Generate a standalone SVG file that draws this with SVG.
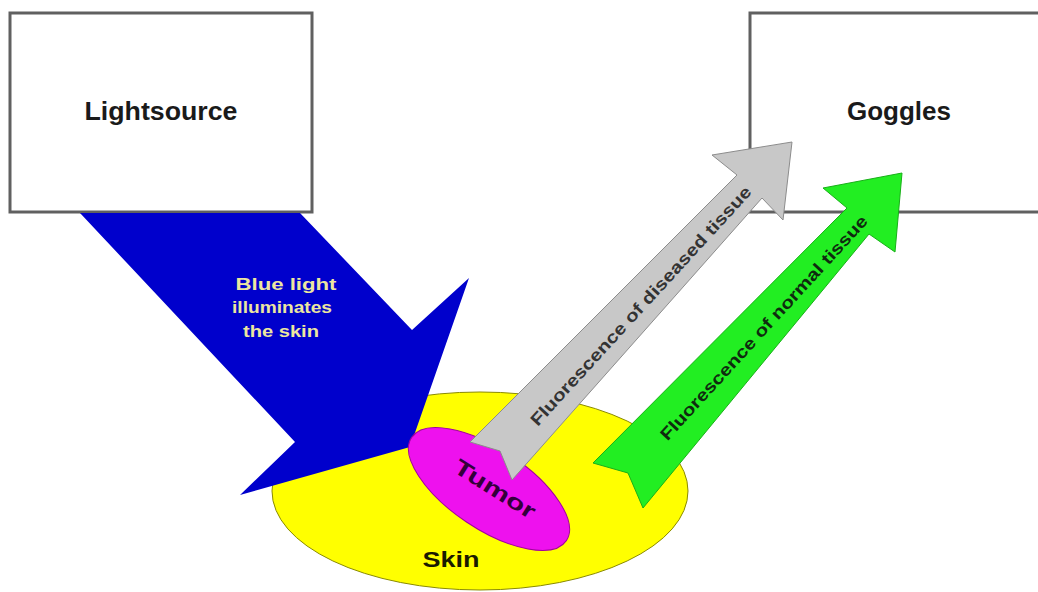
<svg xmlns="http://www.w3.org/2000/svg" width="1038" height="592" viewBox="0 0 1038 592">
<style>
.box{fill:#ffffff;stroke:#606060;stroke-width:3}
.lbl{font-family:"Liberation Sans",Arial,sans-serif;font-weight:bold}
.big{font-size:25px;fill:#1a1a1a}
</style>
<rect width="1038" height="592" fill="#ffffff"/>
<g id="skin">
<ellipse cx="480" cy="491" rx="208" ry="99" fill="#ffff00" stroke="#8a8a00" stroke-width="1"/>
<text class="lbl" x="451" y="567" font-size="22" fill="#1a1a00" text-anchor="middle" textLength="57" lengthAdjust="spacingAndGlyphs">Skin</text>
</g>
<g id="lightsource">
<rect class="box" x="10" y="13" width="302" height="199"/>
<text class="lbl big" x="161" y="120" text-anchor="middle" textLength="153" lengthAdjust="spacingAndGlyphs">Lightsource</text>
</g>
<g id="goggles">
<rect class="box" x="750" y="13" width="300" height="199"/>
<text class="lbl big" x="899" y="120" text-anchor="middle" textLength="104" lengthAdjust="spacingAndGlyphs">Goggles</text>
</g>
<g id="connectors">
<g id="blue-light">
<polygon points="80,213 300,213 412,330 469,278 410,447 240,495 295,442" fill="#0000cc"/>
<text class="lbl" font-size="16" fill="#ece6a0" text-anchor="middle"><tspan x="286" y="290" textLength="101" lengthAdjust="spacingAndGlyphs">Blue light</tspan><tspan x="282" y="313" textLength="100" lengthAdjust="spacingAndGlyphs">illuminates</tspan><tspan x="281" y="337" textLength="76" lengthAdjust="spacingAndGlyphs">the skin</tspan></text>
</g>
</g>
<g id="tumor">
<ellipse cx="489" cy="489" rx="93" ry="40" transform="rotate(33.7 489 489)" fill="#ee11ee" stroke="#a000a0" stroke-width="1"/>
<text class="lbl" x="0" y="0" font-size="22" fill="#33003a" text-anchor="middle" dominant-baseline="central" textLength="92" lengthAdjust="spacingAndGlyphs" transform="translate(495 489) rotate(32)">Tumor</text>
</g>
<g id="arrows">
<g id="diseased">
<polygon points="470,442 500,451 512,480 762,198 783,220 792,142 712,155 737,175" fill="#c8c8c8" stroke="#8c8c8c" stroke-width="1"/>
<text class="lbl" x="0" y="0" font-size="17" fill="#333333" text-anchor="middle" dominant-baseline="central" textLength="318" lengthAdjust="spacingAndGlyphs" transform="translate(641 306) rotate(-47.5)">Fluorescence of diseased tissue</text>
</g>
<g id="normal">
<polygon points="593,463 628,473 643,508 869,234 895,252 902,173 823,188 847,208" fill="#22ee22" stroke="#18b018" stroke-width="1"/>
<text class="lbl" x="0" y="0" font-size="17" fill="#0f2a0f" text-anchor="middle" dominant-baseline="central" textLength="298" lengthAdjust="spacingAndGlyphs" transform="translate(764 328) rotate(-47.5)">Fluorescence of normal tissue</text>
</g>
</g>
</svg>
